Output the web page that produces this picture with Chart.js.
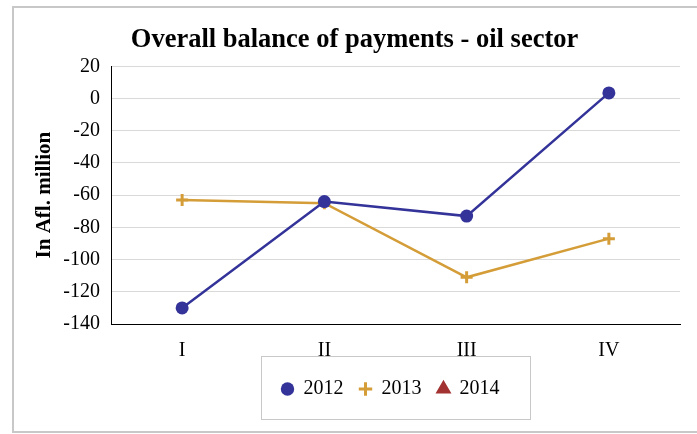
<!DOCTYPE html>
<html>
<head>
<meta charset="utf-8">
<script src="https://cdn.jsdelivr.net/npm/chart.js@4.4.0/dist/chart.umd.min.js"></script>
<style>
  html, body { margin: 0; padding: 0; background: #ffffff; }
  #wrap { position: relative; width: 697px; height: 434px; }
</style>
</head>
<body>
<div id="wrap"><canvas id="c" width="697" height="434"></canvas></div>
<script>
const categories = ['I', 'II', 'III', 'IV'];
const seriesNames = ['2012', '2013', '2014'];
const values2012 = [-130, -64, -73, 3.5];
const values2013 = [-63, -65, -111, -87];
const values2014 = [null, null, null, null];
const yTicks = { min: -140, max: 20, step: 20 };

const FONT = "'Liberation Serif', 'Times New Roman', serif";

const layoutTweak = {
  id: 'layoutTweak',
  afterLayout(chart) {
    const t = chart.titleBlock;
    if (t) { t.left = 12; t.right = 697; t.width = 685; }
    const lg = chart.legend;
    if (lg) {
      const ca = chart.chartArea;
      const w = ca.right - ca.left;
      lg.left = ca.left - 5; lg.right = lg.left + w; lg.width = w;
      lg.top -= 15; lg.bottom -= 15;
    }
  }
};

const framePlugin = {
  id: 'frame',
  afterDraw(chart) {
    const ctx = chart.ctx;
    ctx.save();
    ctx.strokeStyle = '#c8c8c8';
    ctx.lineWidth = 2;
    ctx.strokeRect(13, 7, 700, 425);
    const lg = chart.legend;
    if (lg && lg.legendHitBoxes && lg.legendHitBoxes.length) {
      const hb = lg.legendHitBoxes;
      const first = hb[0], last = hb[hb.length - 1];
      const cy = first.top + first.height / 2;
      const left = first.left - 21;
      const right = last.left + last.width + 30;
      ctx.lineWidth = 1;
      ctx.strokeStyle = '#c8c8c8';
      ctx.strokeRect(Math.round(left) + 0.5, Math.round(cy - 33) + 0.5, Math.round(right - left), 63);
    }
    ctx.restore();
  }
};

new Chart(document.getElementById('c'), {
  type: 'line',
  data: {
    labels: categories,
    datasets: [
      {
        label: seriesNames[0], data: values2012,
        borderColor: '#333399', backgroundColor: '#333399',
        borderWidth: 2.5, pointStyle: 'circle', pointRadius: 6.5,
        pointBorderWidth: 0, tension: 0
      },
      {
        label: seriesNames[1], data: values2013,
        borderColor: '#d49d38', backgroundColor: '#d49d38',
        borderWidth: 2.5, pointStyle: 'cross', pointRadius: 6,
        pointBorderWidth: 3, tension: 0
      },
      {
        label: seriesNames[2], data: values2014,
        borderColor: '#a33232', backgroundColor: '#a33232',
        borderWidth: 2.5, pointStyle: 'triangle', pointRadius: 7,
        tension: 0
      }
    ]
  },
  options: {
    responsive: false,
    animation: false,
    events: [],
    layout: { padding: { left: 0, top: 8, right: 17, bottom: 10 } },
    plugins: {
      title: {
        display: true,
        text: 'Overall balance of payments - oil sector',
        color: '#000',
        font: { family: FONT, size: 26.5, weight: 'bold' },
        padding: { top: 16, bottom: 10.5 }
      },
      legend: {
        position: 'bottom',
        labels: {
          usePointStyle: true,
          boxWidth: 12, boxHeight: 9.5,
          padding: 16,
          color: '#000',
          font: { family: FONT, size: 20 }
        }
      },
      tooltip: { enabled: false }
    },
    scales: {
      x: {
        offset: true,
        grid: { display: false, drawTicks: false },
        border: { display: true, color: '#000', width: 1 },
        ticks: { color: '#000', font: { family: FONT, size: 20 }, padding: 15 }
      },
      y: {
        min: yTicks.min, max: yTicks.max,
        afterFit(scale) { scale.width = 111; },
        grid: { color: '#d9d9d9', lineWidth: 1, drawTicks: false },
        border: { display: true, color: '#000', width: 1 },
        ticks: { stepSize: yTicks.step, color: '#000', font: { family: FONT, size: 20 }, padding: 11 },
        title: {
          display: true, text: 'In Afl. million', color: '#000',
          font: { family: FONT, size: 21, weight: 'bold' },
          padding: { top: 32, bottom: 0 }
        }
      }
    }
  },
  plugins: [layoutTweak, framePlugin]
});
</script>
</body>
</html>
